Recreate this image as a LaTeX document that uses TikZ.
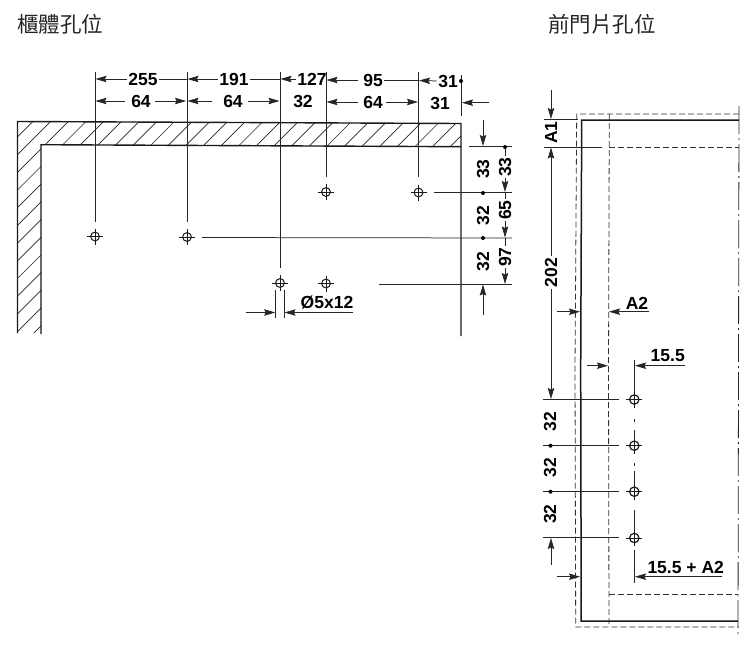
\documentclass[tikz,border=0pt]{standalone}
\usepackage{fontspec}
\setmainfont{Liberation Sans}
\newfontfamily\cjk{Noto Sans CJK TC}
\usetikzlibrary{arrows.meta}
\tikzset{
  thinl/.style={line width=0.75pt,draw=black!85},
  wall/.style={line width=1.4pt,draw=black!90},
  panel/.style={line width=1.5pt,draw=black!90},
  dashl/.style={line width=0.8pt,draw=black!80,dash pattern=on 6pt off 3pt},
  chain/.style={line width=0.8pt,draw=black!85,dash pattern=on 28pt off 4pt on 2pt off 4pt},
  hatchl/.style={line width=0.65pt,draw=black!85},
  dimtip/.style={-{Stealth[length=11pt,width=6.4pt,inset=1.5pt]},line width=0.75pt,draw=black!85,fill=black},
  dimval/.style={font=\fontsize{17.5}{19}\selectfont\bfseries,text=black,inner sep=1.5pt},
  dimrot/.style={dimval,rotate=90},
  dotm/.style={circle,fill=black,inner sep=0pt,minimum size=4pt},
  titletext/.style={font=\cjk\fontsize{21.5}{23}\selectfont,text=black!85,inner sep=0pt,anchor=west},
}
\newcommand{\holemark}[4]{%
  \draw[line width=#4,draw=black!90] (#1,#2) circle (#3);
  \draw[line width=0.7pt,draw=black!90] (#1-8,#2) -- (#1+8,#2) (#1,#2-8) -- (#1,#2+8);
}
\begin{document}
\begin{tikzpicture}[x=1pt,y=-1pt]
\useasboundingbox (0,0) rectangle (750,654);
\fill[white] (0,0) rectangle (750,654);

% titles
\node[titletext] (t1) at (17,24) {櫃體孔位};
\node[titletext] (t2) at (548,24) {前門片孔位};

% hatched wall
\begin{scope}
  \clip (17.5,121.5) -- (461,123.5) -- (461,146.7) -- (41,144.7) -- (41,333) -- (17.5,333) -- cycle;
  \foreach \k in {0,...,29} {
    \pgfmathsetmacro{\s}{119+17.7*\k}
    \draw[hatchl] (0,\s) -- (\s,0);
  }
\end{scope}
\draw[wall] (17.5,333) -- (17.5,121.5) -- (461,123.5) -- (461,336);
\draw[wall] (41,334) -- (41,144.7) -- (461,146.7);

% extension lines, top
\draw[thinl] (95,72) -- (95,222);
\draw[thinl] (187,72) -- (187,222);
\draw[thinl] (280,72) -- (280,268);
\draw[thinl] (326,72) -- (326,177);
\draw[thinl] (418.5,72) -- (418.5,177);
\draw[thinl] (461,75) -- (461,116);

% holes, cabinet
\holemark{95}{236.5}{4.4pt}{1pt}
\holemark{187}{237}{4.4pt}{1pt}
\holemark{326}{192}{4.4pt}{1pt}
\holemark{418.5}{192.5}{4.4pt}{1pt}
\holemark{280}{283}{4.4pt}{1pt}
\holemark{326}{283.5}{4.4pt}{1pt}

% row 1
\node[dimval] (a1) at (143,79) {255};
\node[dimval] (a2) at (234,79) {191};
\node[dimval] (a3) at (312,79) {127};
\node[dimval] (a4) at (373,80) {95};
\node[dimval] (a5) at (448,81) {31};
\draw[dimtip] (a1.west) -- (95.5,79);
\draw[thinl] (a1.east) -- (187,79);
\draw[dimtip] (a2.west) -- (187.5,79);
\draw[thinl] (a2.east) -- (280,79);
\draw[dimtip] (a3.west) -- (280.5,79);
\draw[dimtip] (358,80) -- (326.5,80);
\draw[thinl] (a4.east) -- (418,80);
\draw[dimtip] (a5.west) -- (419,80.5);
\node[dotm] (d0) at (461,81) {};

% row 2
\node[dimval] (b1) at (141,101) {64};
\node[dimval] (b2) at (233,101) {64};
\node[dimval] (b3) at (303,101.5) {32};
\node[dimval] (b4) at (373,102) {64};
\node[dimval] (b5) at (440,103) {31};
\draw[dimtip] (125,101) -- (95.5,101);
\draw[dimtip] (155,101) -- (186,101);
\draw[dimtip] (212,101) -- (187.5,101);
\draw[dimtip] (248,101) -- (279.5,101);
\draw[dimtip] (358,102) -- (326.5,102);
\draw[dimtip] (386,102) -- (418,102);
\draw[dimtip] (489,102.7) -- (462,102.7);

% right dimension block
\draw[thinl] (469,146.5) -- (512,146.5);
\draw[thinl] (434,192.8) -- (512,192.8);
\draw[thinl] (202,237.5) -- (512,238);
\draw[thinl] (379,284) -- (512,284);
\draw[dimtip] (483,120) -- (483,146);
\draw[dimtip] (483,315) -- (483,284.5);
\node[dotm] (d1) at (505,147) {};
\node[dotm] (d2) at (483,193) {};
\node[dotm] (d3) at (483,238) {};
\node[dimrot] (c1) at (483,169) {33};
\node[dimrot] (c2) at (483,215.5) {32};
\node[dimrot] (c3) at (483,261.5) {32};
\node[dimrot] (e1) at (505,167) {33};
\node[dimrot] (e2) at (505,210) {65};
\node[dimrot] (e3) at (505,257) {97};
\draw[thinl] (d1) -- (e1.east);
\draw[dimtip] (e1.west) -- (505,192);
\draw[dimtip] (e2.west) -- (505,237.5);
\draw[dimtip] (e3.west) -- (505,284);
\draw[thinl] (505,192) -- (e2.east);
\draw[thinl] (505,238) -- (e3.east);

% diameter
\draw[thinl] (275.7,290) -- (275.7,318);
\draw[thinl] (284,290) -- (284,318);
\draw[dimtip] (246,312.5) -- (275.2,312.5);
\draw[dimtip] (353,312.5) -- (284.5,312.5);
\node[dimval] (dia) at (327,303) {Ø5x12};

% door panel
\draw[dashl] (739,114) -- (576.7,114) -- (575,370) -- (575.7,627) -- (739,627);
\draw[dashl] (609.3,114) -- (608.5,370) -- (609,627);
\draw[dashl] (609.3,147.3) -- (739,147.3);
\draw[dashl] (609,594) -- (738,594);
\draw[chain] (739,106) -- (738,635);
\draw[panel] (739,120) -- (581.7,120) -- (580.7,370) -- (581.2,621) -- (738,621);

% door left dimensions
\draw[thinl] (544,119) -- (578,119);
\draw[thinl] (544,147) -- (602,147);
\draw[thinl] (543,399.5) -- (619,399.5);
\draw[thinl] (543,445.7) -- (619,445.7);
\draw[thinl] (543,491.7) -- (619,491.7);
\draw[thinl] (543,537.7) -- (619,537.7);
\node[dimrot] (f1) at (551,132.7) {A1};
\node[dimrot] (f2) at (551,272.7) {202};
\node[dimrot] (f3) at (550,421.7) {32};
\node[dimrot] (f4) at (550,467.7) {32};
\node[dimrot] (f5) at (550,514) {32};
\node[dotm] (d4) at (550.5,445.7) {};
\node[dotm] (d5) at (550.5,491.7) {};
\draw[dimtip] (551,90) -- (551,119);
\draw[dimtip] (f2.east) -- (551,147.5);
\draw[dimtip] (f2.west) -- (551,399);
\draw[dimtip] (551,565) -- (551,538);

% door A2
\node[dimval] (g1) at (637,303) {A2};
\draw[dimtip] (557,311.7) -- (580,311.7);
\draw[dimtip] (649,311.7) -- (609,311.7);
% door 15.5
\node[dimval] (g2) at (667.7,355.5) {15.5};
\draw[dimtip] (587,365.7) -- (608,365.7);
\draw[dimtip] (685,365.7) -- (635,365.7);
% door 15.5 + A2
\node[dimval] (g3) at (685.7,567) {15.5 + A2};
\draw[dimtip] (557,576.7) -- (580,576.7);
\draw[dimtip] (722,576.7) -- (635,576.7);

% door holes
\holemark{634.3}{399.5}{4.7pt}{1.2pt}
\holemark{634.3}{445.7}{4.7pt}{1.2pt}
\holemark{634.3}{491.7}{4.7pt}{1.2pt}
\holemark{634.3}{538}{4.7pt}{1.2pt}
\draw[thinl] (634.3,360) -- (634.3,392);
\draw[thinl] (634.3,419) -- (634.3,422);
\draw[thinl] (634.3,430) -- (634.3,438);
\draw[thinl] (634.3,463) -- (634.3,466);
\draw[thinl] (634.3,471) -- (634.3,484);
\draw[thinl] (634.3,510) -- (634.3,530);
\draw[thinl] (634.3,550) -- (634.3,583);
\end{tikzpicture}
\end{document}
